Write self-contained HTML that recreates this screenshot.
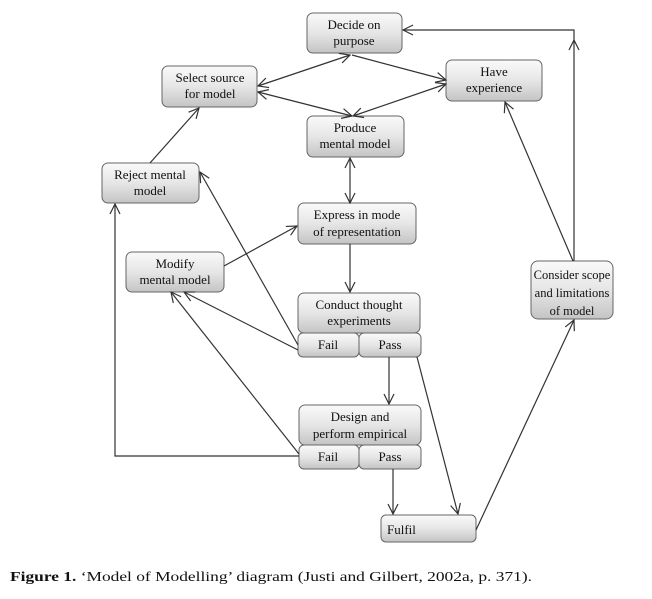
<!DOCTYPE html>
<html><head><style>body{margin:0;background:#fff}svg{display:block}</style></head><body>
<svg width="652" height="599" viewBox="0 0 652 599" xmlns="http://www.w3.org/2000/svg" font-family="Liberation Serif, serif">
<defs>
<linearGradient id="g" x1="0" y1="0" x2="0" y2="1"><stop offset="0" stop-color="#fafafa"/><stop offset="0.5" stop-color="#e6e6e6"/><stop offset="1" stop-color="#c4c4c4"/></linearGradient>
<marker id="a" viewBox="0 0 12 12" refX="11" refY="6" markerWidth="12" markerHeight="12" markerUnits="userSpaceOnUse" orient="auto-start-reverse"><path d="M1,1 L11,6 L1,11" fill="none" stroke="#333" stroke-width="1.2"/></marker>
</defs>
<g fill="url(#g)" stroke="#666" stroke-width="1">
<rect x="307" y="13" width="95" height="40" rx="6"/>
<rect x="162" y="66" width="95" height="41" rx="6"/>
<rect x="446" y="60" width="96" height="41" rx="6"/>
<rect x="307" y="116" width="97" height="41" rx="6"/>
<rect x="102" y="163" width="97" height="40" rx="6"/>
<rect x="298" y="203" width="118" height="41" rx="6"/>
<rect x="126" y="252" width="98" height="40" rx="6"/>
<rect x="298" y="293" width="122" height="40" rx="6"/>
<rect x="298" y="333" width="61" height="24" rx="5"/>
<rect x="359" y="333" width="62" height="24" rx="5"/>
<rect x="299" y="405" width="122" height="40" rx="6"/>
<rect x="299" y="445" width="60" height="24" rx="5"/>
<rect x="359" y="445" width="62" height="24" rx="5"/>
<rect x="381" y="515" width="95" height="27" rx="5"/>
<rect x="531" y="261" width="82" height="58" rx="7"/>
</g>
<g fill="none" stroke="#333" stroke-width="1.2">
<line x1="350" y1="55" x2="258" y2="86" marker-start="url(#a)" marker-end="url(#a)"/>
<line x1="352" y1="55" x2="446" y2="80" marker-end="url(#a)"/>
<line x1="258" y1="92" x2="352" y2="116" marker-start="url(#a)" marker-end="url(#a)"/>
<line x1="446" y1="84" x2="353" y2="116" marker-start="url(#a)" marker-end="url(#a)"/>
<line x1="350" y1="158" x2="350" y2="203" marker-start="url(#a)" marker-end="url(#a)"/>
<line x1="150" y1="163" x2="199" y2="108" marker-end="url(#a)"/>
<line x1="224" y1="266" x2="297" y2="226" marker-end="url(#a)"/>
<line x1="350" y1="244" x2="350" y2="292" marker-end="url(#a)"/>
<line x1="298" y1="345" x2="200" y2="172" marker-end="url(#a)"/>
<line x1="298" y1="350" x2="184" y2="292" marker-end="url(#a)"/>
<line x1="299" y1="454" x2="171" y2="292" marker-end="url(#a)"/>
<polyline points="299,456 115,456 115,204" marker-end="url(#a)"/>
<line x1="389" y1="357" x2="389" y2="404" marker-end="url(#a)"/>
<line x1="417" y1="357" x2="458" y2="514" marker-end="url(#a)"/>
<line x1="393" y1="469" x2="393" y2="514" marker-end="url(#a)"/>
<line x1="476" y1="530" x2="574" y2="320" marker-end="url(#a)"/>
<line x1="573" y1="261" x2="505" y2="102" marker-end="url(#a)"/>
<line x1="574" y1="261" x2="574" y2="40" marker-end="url(#a)"/>
<polyline points="574,40 574,30 403,30" marker-end="url(#a)"/>
</g>
<g font-size="13" fill="#111" text-anchor="middle">
<text x="354" y="29">Decide on</text><text x="354" y="45">purpose</text>
<text x="210" y="82">Select source</text><text x="210" y="98">for model</text>
<text x="494" y="76">Have</text><text x="494" y="92">experience</text>
<text x="355" y="132">Produce</text><text x="355" y="148">mental model</text>
<text x="150" y="179">Reject mental</text><text x="150" y="195">model</text>
<text x="357" y="219">Express in mode</text><text x="357" y="236">of representation</text>
<text x="175" y="268">Modify</text><text x="175" y="284">mental model</text>
<text x="359" y="309">Conduct thought</text><text x="359" y="325">experiments</text>
<text x="328" y="349">Fail</text><text x="390" y="349">Pass</text>
<text x="360" y="421">Design and</text><text x="360" y="438">perform empirical</text>
<text x="328" y="461">Fail</text><text x="390" y="461">Pass</text>
<text x="572" y="279" font-size="12.5">Consider scope</text><text x="572" y="297" font-size="12.5">and limitations</text><text x="572" y="315" font-size="12.5">of model</text>
<text x="387" y="534" text-anchor="start">Fulfil</text>
</g>
<text x="10" y="581" font-size="14" fill="#111" textLength="522" lengthAdjust="spacingAndGlyphs"><tspan font-weight="bold">Figure 1.</tspan> ‘Model of Modelling’ diagram (Justi and Gilbert, 2002a, p. 371).</text>
</svg>
</body></html>
